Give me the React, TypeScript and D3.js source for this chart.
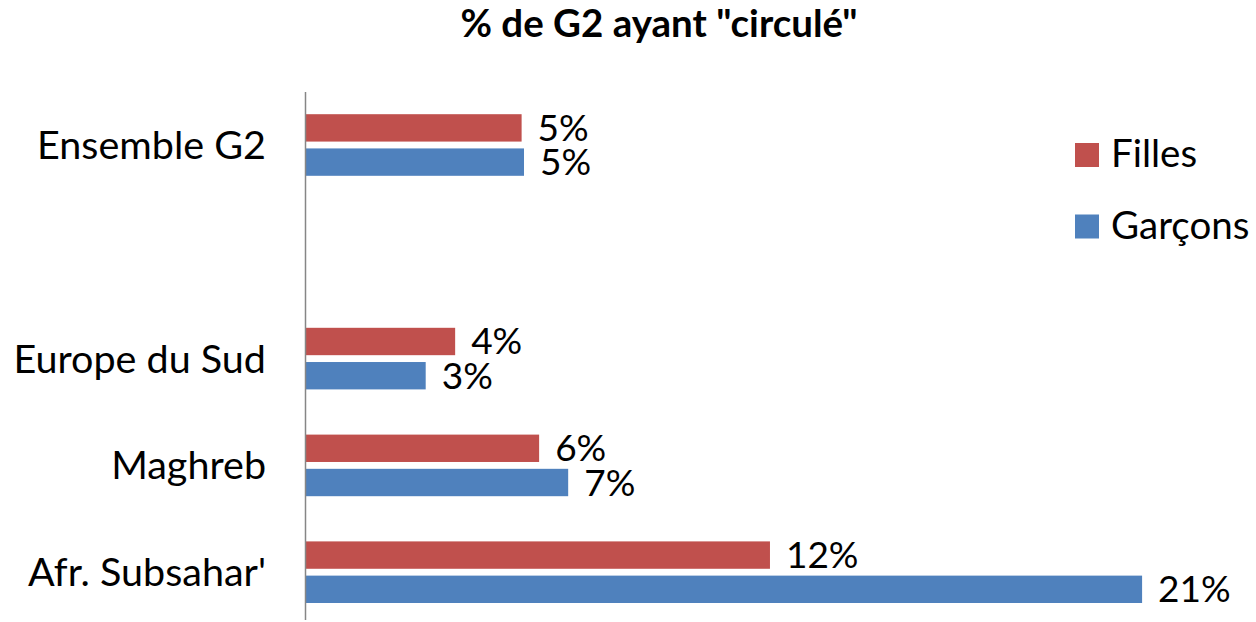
import * as d3 from "d3";

const title = '% de G2 ayant "circulé"';
const categories = ["Ensemble G2", "", "Europe du Sud", "Maghreb", "Afr. Subsahar'"];
const series = ["Filles", "Garçons"];
const filles = [5.43, null, 3.76, 5.87, 11.67];
const garcons = [5.49, null, 3.02, 6.6, 21.02];
const colors = ["#C0504D", "#4F81BD"];

const W = 1256;
const H = 622;
const font = "Lato, 'Open Sans', sans-serif";

export default function App() {
  const x = d3.scaleLinear().domain([0, 22]).range([305.5, 305.5 + 22 * 39.8]);
  const y = d3.scaleBand().domain(categories).range([91.6, 625.6]);
  const inner = d3.scaleBand().domain(series).range([0, 61.6]).paddingInner(0.2);
  const values = [filles, garcons];

  return (
    <svg width={W} height={H} style={{ position: "absolute", left: 0, top: 0, background: "#fff" }}>
      <text x={659} y={37} textAnchor="middle" fontFamily={font} fontWeight="bold" fontSize={38.5} fill="#000">
        {title}
      </text>

      {categories.map((c, i) => {
        const cy = y(c)! + y.bandwidth() / 2;
        const g0 = cy - 30.8;
        return (
          <g key={i}>
            <text x={266} y={cy + 14} textAnchor="end" fontFamily={font} fontSize={39.5} fill="#000">
              {c}
            </text>
            {series.map((s, j) => {
              const v = values[j][i];
              if (v == null) return null;
              const by = g0 + inner(s)!;
              return (
                <g key={s}>
                  <rect x={x(0)} y={by} width={x(v) - x(0)} height={inner.bandwidth()} fill={colors[j]} />
                  <text
                    x={x(v) + 16}
                    y={by + inner.bandwidth() / 2 + 13}
                    fontFamily={font}
                    fontSize={37}
                    fill="#000"
                  >
                    {Math.round(v) + "%"}
                  </text>
                </g>
              );
            })}
          </g>
        );
      })}

      <line x1={305.5} x2={305.5} y1={92} y2={620} stroke="#868686" strokeWidth={1.5} />

      {series.map((s, j) => (
        <g key={s} transform={`translate(1075,${143 + j * 71.5})`}>
          <rect width={24} height={24} fill={colors[j]} />
          <text x={36} y={24} fontFamily={font} fontSize={38.5} fill="#000">
            {s}
          </text>
        </g>
      ))}
    </svg>
  );
}
